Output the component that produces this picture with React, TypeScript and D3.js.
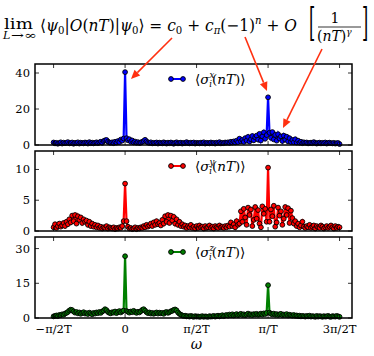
import React from 'react';
import * as d3 from 'd3';

// frequency grid in units of pi/T, from -pi/2T to 3pi/2T
const omegaStart = -0.5;
const omegaStep = 0.01;

const sigmaX = [
  1.4, 0.9, 1.2, 0.7, 1.1, 1.5, 0.8, 1.3, 1.0, 1.2,
  1.6, 0.9, 1.1, 1.4, 0.7, 1.2, 1.0, 1.5, 0.8, 1.3,
  1.1, 0.9, 1.4, 1.2, 0.8, 1.6, 1.0, 1.3, 0.9, 1.2,
  1.5, 1.0, 1.4, 1.8, 1.2, 2.2, 2.6, 2.8, 1.9, 1.4,
  1.2, 1.5, 1.0, 1.8, 1.3, 2.2, 1.6, 3.0, 2.4, 3.6,
  40.5,
  3.8, 2.6, 3.2, 1.8, 2.5, 1.4, 1.9, 1.2, 1.6, 1.1,
  1.3, 1.8, 2.2, 2.9, 2.0, 1.4, 1.1, 1.5, 0.9, 1.2,
  1.0, 1.4, 0.8, 1.3, 1.1, 0.9, 1.5, 1.2, 0.8, 1.3,
  1.0, 1.4, 1.1, 0.7, 1.2, 1.5, 0.9, 1.1, 1.3, 0.8,
  1.2, 1.0, 1.6, 1.1, 0.9, 1.3, 1.0, 1.4, 0.8, 1.2,
  1.1, 0.9, 1.3, 1.0, 1.5, 0.8, 1.2, 1.1, 0.9, 1.4,
  1.0, 1.2, 0.8, 1.3, 1.1, 1.6, 0.9, 1.2, 1.0, 1.4,
  1.2, 1.5, 1.1, 1.8, 1.3, 2.0, 1.4, 2.4, 1.6, 3.5,
  2.0, 2.8, 1.7, 3.8, 2.4, 4.5, 1.9, 3.2, 5.0, 2.6,
  4.2, 5.2, 3.0, 6.2, 2.5, 4.8, 7.0, 3.5, 5.5,
  26.5,
  6.8, 4.0, 7.2, 3.1, 5.6, 2.4, 6.0, 3.6, 4.8, 2.2,
  5.2, 3.0, 4.6, 2.0, 3.8, 1.6, 2.8, 1.5, 3.2, 1.3,
  2.4, 1.2, 1.8, 1.0, 1.5, 1.2, 1.4, 0.9, 1.1, 1.3,
  1.0, 1.6, 1.2, 0.8, 1.1, 1.3, 0.9, 1.2, 1.0, 1.4,
  0.8, 1.1, 1.3, 1.0, 0.9, 1.2, 0.8, 1.0, 1.1, 0.5,
];

const sigmaY = [
  0.6, 1.1, 0.5, 0.8, 1.2, 0.7, 0.9, 1.3, 0.8, 1.5,
  1.1, 1.9, 1.4, 2.5, 1.6, 2.6, 1.2, 2.4, 1.8, 2.2,
  1.3, 1.9, 1.5, 1.7, 1.0, 1.5, 0.8, 1.2, 0.7, 1.0,
  0.6, 0.9, 0.5, 0.7, 0.4, 0.6, 0.5, 0.8, 0.4, 0.6,
  0.5, 0.4, 0.6, 0.3, 0.5, 0.4, 0.6, 0.5, 0.8, 1.6,
  7.7,
  1.6, 0.7, 0.4, 0.5, 0.3, 0.4, 0.6, 0.3, 0.5, 0.4,
  0.6, 0.5, 0.8, 0.6, 1.0, 0.7, 0.9, 1.2, 0.8, 1.4,
  1.0, 1.6, 1.1, 1.3, 0.9, 1.8, 1.2, 2.4, 1.5, 2.6,
  1.3, 2.5, 1.7, 2.3, 1.2, 1.9, 1.0, 1.5, 0.8, 1.1,
  0.7, 0.9, 0.5, 0.8, 0.6, 1.0, 0.5, 0.7, 0.4, 0.8,
  0.5, 0.9, 0.6, 0.7, 0.4, 0.8, 0.5, 0.6, 0.9, 0.5,
  0.7, 0.4, 0.8, 0.6, 0.5, 0.9, 0.6, 0.7, 0.5, 0.8,
  0.6, 0.9, 0.7, 1.4, 0.8, 1.1, 0.6, 1.6, 1.0, 1.2,
  3.2, 1.5, 3.6, 2.2, 1.0, 3.8, 2.6, 3.5, 0.8, 1.8,
  3.9, 2.0, 3.4, 1.2, 0.6, 4.0, 2.8, 3.6, 1.5,
  10.3,
  1.5, 3.5, 2.4, 4.1, 0.7, 1.4, 3.8, 2.5, 3.2, 1.0,
  2.0, 3.9, 2.6, 3.7, 1.3, 3.3, 2.1, 1.2, 1.6, 0.8,
  1.2, 0.6, 0.9, 1.5, 0.7, 0.5, 0.8, 0.6, 1.0, 0.5,
  0.7, 0.9, 0.4, 0.8, 0.6, 0.5, 0.9, 0.7, 0.4, 0.6,
  0.8, 0.5, 0.7, 0.9, 0.6, 0.4, 0.8, 0.5, 0.7, 0.6,
];

const sigmaZ = [
  0.7, 0.9, 1.1, 0.8, 1.3, 1.2, 1.6, 1.4, 1.9, 2.2,
  2.6, 3.2, 3.6, 3.4, 2.8, 2.3, 2.6, 2.0, 2.4, 1.8,
  2.2, 2.5, 1.9, 2.1, 1.7, 2.3, 2.0, 1.6, 2.2, 1.9,
  2.4, 2.1, 2.6, 2.2, 2.8, 3.2, 3.8, 3.4, 2.6, 2.2,
  2.0, 2.5, 2.3, 2.8, 2.1, 2.6, 3.0, 2.4, 2.9, 3.2,
  26.7,
  3.0, 2.7, 2.3, 2.8, 2.5, 3.1, 2.6, 2.2, 2.7, 2.4,
  2.9, 3.5, 3.8, 3.2, 2.5, 2.1, 2.4, 1.9, 2.2, 1.8,
  2.1, 2.4, 1.9, 2.3, 2.0, 2.2, 1.8, 2.4, 2.6, 2.2,
  2.5, 2.9, 3.1, 3.5, 3.7, 3.3, 2.4, 1.8, 1.4, 1.1,
  0.9, 1.0, 0.7, 0.8, 0.6, 0.9, 0.7, 0.5, 0.8, 0.6,
  0.7, 0.5, 0.6, 0.8, 0.5, 0.7, 0.6, 0.5, 0.8, 0.6,
  0.7, 0.9, 0.6, 0.8, 1.0, 0.7, 0.9, 1.2, 0.8, 1.1,
  1.3, 1.0, 1.5, 1.2, 1.6, 1.1, 1.4, 1.7, 1.2, 1.5,
  1.8, 1.3, 1.6, 1.2, 1.5, 1.9, 1.4, 1.6, 1.3, 1.7,
  1.5, 1.8, 1.4, 1.6, 1.9, 1.5, 2.0, 1.7, 2.2,
  14.2,
  2.3, 1.8, 1.6, 1.9, 1.4, 1.7, 1.3, 1.6, 1.8, 1.2,
  1.5, 1.3, 1.7, 1.1, 1.4, 1.2, 1.0, 1.3, 0.9, 1.1,
  0.8, 1.0, 0.7, 0.9, 0.8, 0.6, 0.9, 0.7, 1.0, 0.6,
  0.8, 0.7, 0.5, 0.9, 0.6, 0.8, 0.7, 0.5, 0.8, 0.6,
  0.7, 0.9, 0.6, 0.5, 0.8, 0.7, 0.6, 0.9, 0.7, 0.5,
];

const xTicks = [-0.5, 0, 0.5, 1, 1.5];
const xTickLabels = ['\u2212\u03c0/2T', '0', '\u03c0/2T', '\u03c0/T', '3\u03c0/2T'];

const panels = [
  { values: sigmaX, comp: 'x', color: '#0000ff', yMax: 45, yTicks: [0, 20, 40], top: 64, bottom: 145 },
  { values: sigmaY, comp: 'y', color: '#ff0000', yMax: 13, yTicks: [0, 5, 10], top: 151, bottom: 231 },
  { values: sigmaZ, comp: 'z', color: '#008000', yMax: 35, yTicks: [0, 15, 30], top: 237, bottom: 318 },
];

const serif = "'DejaVu Serif', 'Liberation Serif', serif";
const arrowColor = '#ff3010';

const left = 35;
const right = 352;

const x = d3.scaleLinear().domain([-0.63, 1.587]).range([left, right]);

const Arrow = ({ x1, y1, x2, y2 }: { x1: number; y1: number; x2: number; y2: number }) => {
  const a = Math.atan2(y2 - y1, x2 - x1);
  const len = 9;
  const w = 4;
  const bx = x2 - len * Math.cos(a);
  const by = y2 - len * Math.sin(a);
  const px = -Math.sin(a) * w;
  const py = Math.cos(a) * w;
  return (
    <g>
      <line x1={x1} y1={y1} x2={bx} y2={by} stroke={arrowColor} strokeWidth={1.6} />
      <path d={`M${x2},${y2}L${bx + px},${by + py}L${bx - px},${by - py}Z`} fill={arrowColor} />
    </g>
  );
};

const Panel = ({ p, last }: { p: typeof panels[0]; last: boolean }) => {
  const y = d3.scaleLinear().domain([0, p.yMax]).range([p.bottom, p.top]);
  const pts = p.values.map((v, i) => [omegaStart + i * omegaStep, v] as [number, number]);
  const line = d3.line<[number, number]>().x(d => x(d[0])).y(d => y(d[1]));
  const legY = p.top + 15;
  return (
    <g>
      <path d={line(pts) || ''} fill="none" stroke={p.color} strokeWidth={2.2} />
      {pts.map((d, i) => (
        <circle key={i} cx={x(d[0])} cy={y(d[1])} r={2.4} fill={p.color} stroke="#000" strokeWidth={0.9} />
      ))}
      <rect x={left} y={p.top} width={right - left} height={p.bottom - p.top} fill="none" stroke="#000" strokeWidth={1.5} />
      {p.yTicks.map(t => (
        <g key={t}>
          <line x1={left} x2={left + 4} y1={y(t)} y2={y(t)} stroke="#000" strokeWidth={0.8} />
          <line x1={right} x2={right - 4} y1={y(t)} y2={y(t)} stroke="#000" strokeWidth={0.8} />
          <text x={left - 5} y={y(t) + 4} textAnchor="end" fontFamily={serif} fontSize={11.5}>{t}</text>
        </g>
      ))}
      {xTicks.map(t => (
        <g key={t}>
          <line x1={x(t)} x2={x(t)} y1={p.bottom} y2={p.bottom - 4} stroke="#000" strokeWidth={0.8} />
          <line x1={x(t)} x2={x(t)} y1={p.top} y2={p.top + 4} stroke="#000" strokeWidth={0.8} />
        </g>
      ))}
      {last && xTicks.map((t, i) => (
        <text key={t} x={x(t)} y={p.bottom + 15} textAnchor="middle" fontFamily={serif} fontSize={11.5}>{xTickLabels[i]}</text>
      ))}
      <line x1={171} x2={183} y1={legY} y2={legY} stroke={p.color} strokeWidth={2} />
      <circle cx={171} cy={legY} r={2.4} fill={p.color} stroke="#000" strokeWidth={0.9} />
      <circle cx={183} cy={legY} r={2.4} fill={p.color} stroke="#000" strokeWidth={0.9} />
      <text x={195} y={legY + 5} fontFamily={serif} fontSize={13.5}>
        {'\u27e8'}<tspan fontStyle="italic">{'\u03c3'}</tspan>
        <tspan fontStyle="italic" fontSize={8.5} dy={-6}>{p.comp}</tspan>
        <tspan fontStyle="italic" fontSize={8.5} dx={-5} dy={9}>i</tspan>
        <tspan dy={-3}>(</tspan><tspan fontStyle="italic">nT</tspan>){'\u27e9'}
      </text>
    </g>
  );
};

export default function App() {
  return (
    <div style={{ position: 'absolute', left: 0, top: 0 }}>
      <svg width={374} height={356} style={{ display: 'block', background: '#fff' }}>
        <rect width={374} height={356} fill="#fff" />
        {/* formula header */}
        <g fontFamily={serif} fill="#000">
          <text x={4} y={29} fontSize={15} textLength={29} lengthAdjust="spacingAndGlyphs">lim</text>
          <text x={3} y={39} fontSize={11} fontStyle="italic">L</text>
          <text x={11} y={39} fontSize={11} textLength={26} lengthAdjust="spacingAndGlyphs">{'\u2192\u221e'}</text>
          <text x={40} y={31} fontSize={16} textLength={257} lengthAdjust="spacingAndGlyphs">
            {'\u27e8'}<tspan fontStyle="italic">{'\u03c8'}</tspan><tspan fontSize={10.5} dy={3}>0</tspan>
            <tspan dy={-3}>|</tspan><tspan fontStyle="italic">O</tspan>(<tspan fontStyle="italic">nT</tspan>)|
            <tspan fontStyle="italic">{'\u03c8'}</tspan><tspan fontSize={10.5} dy={3}>0</tspan>
            <tspan dy={-3}>{'\u27e9 = '}</tspan><tspan fontStyle="italic">c</tspan><tspan fontSize={10.5} dy={3}>0</tspan>
            <tspan dy={-3}>{' + '}</tspan><tspan fontStyle="italic">c</tspan><tspan fontSize={10.5} fontStyle="italic" dy={3}>{'\u03c0'}</tspan>
            <tspan dy={-3}>({'\u2212'}1)</tspan><tspan fontSize={10.5} fontStyle="italic" dy={-7}>n</tspan>
            <tspan dy={7}>{' + '}</tspan><tspan fontStyle="italic">O</tspan>
          </text>
          <text transform="translate(309,35) scale(1,2.4)" fontSize={16}>[</text>
          <text transform="translate(362,35) scale(1,2.4)" fontSize={16}>]</text>
          <text x={335} y={23} fontSize={14} textAnchor="middle">1</text>
          <line x1={318} x2={361} y1={27} y2={27} stroke="#000" strokeWidth={0.8} />
          <text x={317} y={41} fontSize={14}>
            (<tspan fontStyle="italic">nT</tspan>)<tspan fontSize={9} fontStyle="italic" dy={-6}>{'\u03b3'}</tspan>
          </text>
        </g>
        {panels.map((p, i) => (
          <Panel key={p.comp} p={p} last={i === panels.length - 1} />
        ))}
        <text x={x(0.5)} y={349} textAnchor="middle" fontFamily={serif} fontSize={14} fontStyle="italic">{'\u03c9'}</text>
        <Arrow x1={172} y1={38} x2={131} y2={79} />
        <Arrow x1={245} y1={37} x2={267} y2={91} />
        <Arrow x1={322} y1={49} x2={283} y2={128} />
      </svg>
    </div>
  );
}
